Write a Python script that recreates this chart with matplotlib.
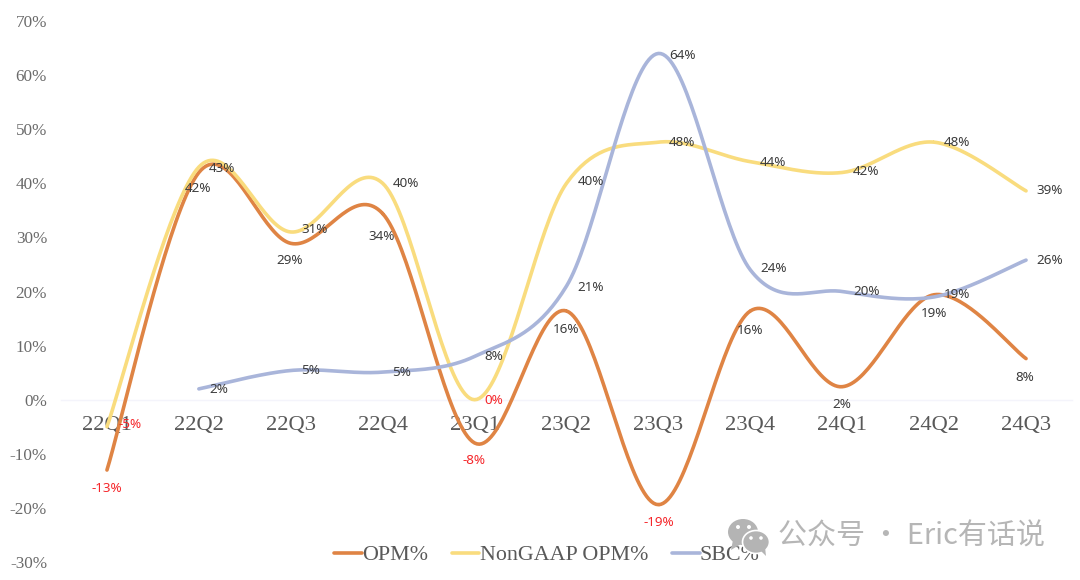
import numpy as np
import matplotlib
matplotlib.use("Agg")
import matplotlib.pyplot as plt
from matplotlib.patches import Ellipse, Polygon
from matplotlib.transforms import IdentityTransform

quarters = ["22Q1", "22Q2", "22Q3", "22Q4", "23Q1", "23Q2", "23Q3", "23Q4", "24Q1", "24Q2", "24Q3"]
opm = [-13.0, 42.0, 28.9, 34.4, -8.0, 16.4, -19.4, 16.4, 2.4, 19.4, 7.6]
non_gaap_opm = [-5.0, 43.0, 31.0, 40.0, 0.0, 40.0, 47.6, 44.0, 42.0, 47.6, 38.6]
sbc = [np.nan, 2.0, 5.4, 5.1, 8.0, 21.0, 64.0, 24.0, 20.0, 19.0, 25.8]
y_ticks = [-30, -20, -10, 0, 10, 20, 30, 40, 50, 60, 70]

# Label offsets in pixels from each point
opm_offsets = [(0, -18), (-1, -16), (-1, -17), (-1, -23), (-1, -18), (0, -19),
               (0, -18), (0, -20), (0, -18), (0, -19), (-1, -19)]
non_gaap_offsets = [(23, 2), (23, -1), (24, 2), (23, 0), (19, -1), (24, 2),
                    (24, 0), (23, -1), (24, 1), (23, 0), (24, 0)]
sbc_offsets = [None, (20, -1), (20, 0), (19, 0), (19, 0), (24, -1),
               (24, -2), (23, 1), (24, 0), (23, 2), (24, 0)]

W, H = 1080, 580
GREY = "#595959"
SERIF = "Liberation Serif"


def smooth(xs, ys, samples=40):
    """Catmull-Rom curve through the points, as spreadsheet smoothed lines draw."""
    xs, ys = np.asarray(xs, float), np.asarray(ys, float)
    px = np.r_[xs[0], xs, xs[-1]]
    py = np.r_[ys[0], ys, ys[-1]]
    out_x, out_y = [], []
    for k in range(1, len(px) - 2):
        t = np.linspace(0, 1, samples)
        for p, out in ((px, out_x), (py, out_y)):
            a, b, c, d = p[k - 1], p[k], p[k + 1], p[k + 2]
            out.append(0.5 * (2 * b + (c - a) * t + (2 * a - 5 * b + 4 * c - d) * t ** 2
                              + (3 * b - a - 3 * c + d) * t ** 3))
    return np.concatenate(out_x), np.concatenate(out_y)


plt.rcParams["font.family"] = [SERIF, "DejaVu Sans"]
fig = plt.figure(figsize=(W / 100, H / 100), dpi=100, facecolor="white")
ax = fig.add_axes([61 / W, 1 - 562 / H, (1072 - 61) / W, (562 - 21) / H])
ax.patch.set_alpha(0)

# Watermark sits beneath the chart
icon = dict(transform=IdentityTransform(), facecolor="#B4B4B4", edgecolor="none")


def px(x, y):
    return x, H - y


fig.add_artist(Ellipse(px(743, 532), 30, 26, **icon))
fig.add_artist(Polygon([px(733, 540), px(731, 550), px(741, 544)], closed=True, **icon))
fig.add_artist(Ellipse(px(756, 542), 27, 23, transform=IdentityTransform(),
                       facecolor="#B4B4B4", edgecolor="white", linewidth=1.2))
fig.add_artist(Polygon([px(760, 550), px(766, 556), px(765, 547)], closed=True, **icon))
for cx, cy, fc_r in [(738, 527, 2), (749, 527, 2), (751, 538, 1.8), (761, 538, 1.8)]:
    fig.add_artist(Ellipse(px(cx, cy), fc_r * 2, fc_r * 2, transform=IdentityTransform(),
                           facecolor="white", edgecolor="none"))
fig.text(778 / W, 1 - 537 / H, "公众号 · Eric有话说", color="#B6B6B6", fontsize=20.9,
         family=["Noto Sans CJK SC", "DejaVu Sans"], ha="left", va="center")

x = np.arange(len(quarters))
series = [
    ("OPM%", opm, "#DF8444", opm_offsets),
    ("NonGAAP OPM%", non_gaap_opm, "#F9DC7E", non_gaap_offsets),
    ("SBC%", sbc, "#A9B5DA", sbc_offsets),
]
for name, values, colour, _ in series:
    vals = np.asarray(values)
    keep = ~np.isnan(vals)
    sx, sy = smooth(x[keep], vals[keep])
    ax.plot(sx, sy, color=colour, lw=2.6, label=name, solid_capstyle="round", zorder=3)

for name, values, colour, offsets in series:
    for i, (v, off) in enumerate(zip(values, offsets)):
        if off is None:
            continue
        ax.annotate(f"{v:.0f}%".replace("-0%", "0%"), (i, v), xytext=off, textcoords="offset pixels",
                    ha="center", va="center", fontsize=9.7, family="Noto Sans",
                    color="#F5272B" if round(v) <= 0 else "#3C3C3C", zorder=4)

ax.set_xlim(-0.5, len(quarters) - 0.5)
ax.set_ylim(-30, 70)
ax.set_xticks(x, quarters)
ax.set_yticks(y_ticks, [f"{t}%" for t in y_ticks])
ax.tick_params(axis="x", length=0, pad=12, labelsize=16.2, labelcolor=GREY)
ax.tick_params(axis="y", length=0, pad=10, labelsize=12.3, labelcolor="#6A6A6A")
for side in ("top", "right", "left"):
    ax.spines[side].set_visible(False)
ax.spines["bottom"].set_position(("data", 0))
ax.spines["bottom"].set_color("#F4F4FB")
ax.spines["bottom"].set_linewidth(1)
for lab in ax.get_xticklabels():
    lab.set_zorder(2)

leg = ax.legend(loc="center", bbox_to_anchor=(547 / W, 1 - 555 / H), bbox_transform=fig.transFigure,
                ncol=3, frameon=False, fontsize=15.8, handlelength=1.25, handletextpad=0.02,
                columnspacing=1.09, borderpad=0, labelcolor=GREY)

fig.savefig("out.png", dpi=100)
